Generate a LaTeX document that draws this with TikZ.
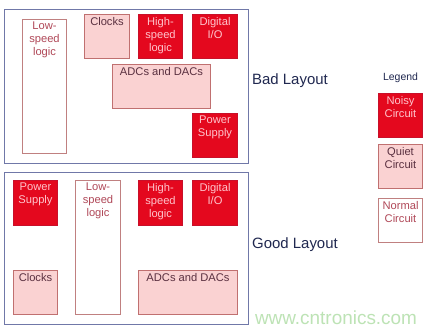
\documentclass[tikz,border=0pt]{standalone}
\usepackage{fontspec}
\setmainfont{Liberation Sans}
\definecolor{noisyred}{HTML}{E4081E}
\definecolor{noisyedge}{HTML}{C8102A}
\definecolor{noisytext}{HTML}{FFC4CC}
\definecolor{quietfill}{HTML}{FAD2D2}
\definecolor{quietedge}{HTML}{C07070}
\definecolor{quiettext}{HTML}{5A3040}
\definecolor{normedge}{HTML}{C08080}
\definecolor{normtext}{HTML}{B04858}
\definecolor{panel}{HTML}{7078A8}
\definecolor{navy}{HTML}{202850}
\definecolor{wm}{HTML}{BDE3B5}
\tikzset{
  blk/.style={draw, line width=0.9pt, inner sep=0pt, rectangle},
  noisy/.style={blk, fill=noisyred, draw=noisyedge},
  quiet/.style={blk, fill=quietfill, draw=quietedge},
  normal/.style={blk, fill=white, draw=normedge},
  panelbox/.style={draw=panel, line width=0.8pt, fill=white},
  ntxt/.style={anchor=north, align=center, font=\fontsize{11.2}{13}\selectfont, text=noisytext, inner sep=3.2pt},
  qtxt/.style={ntxt, text=quiettext},
  mtxt/.style={ntxt, text=normtext},
  head/.style={anchor=west, font=\fontsize{15}{17}\selectfont, text=navy, inner sep=0pt}
}
\begin{document}
\begin{tikzpicture}[x=1bp,y=-1bp]
\useasboundingbox (0,0) rectangle (438,334);
\fill[white] (0,0) rectangle (438,334);
% panels
\draw[panelbox] (4,9) rectangle (248,163);
\draw[panelbox] (4,172) rectangle (248,324);
% ---- bad layout
\node[normal, minimum width=45, minimum height=135] (bls) at (44.5,86.5) {};
\node[mtxt] (blst) at (bls.north) {Low-\\speed\\logic};
\node[quiet, minimum width=46, minimum height=45] (bcl) at (107,36.5) {};
\node[qtxt] (bclt) at (bcl.north) {Clocks};
\node[noisy, minimum width=45, minimum height=45] (bhs) at (160.5,36.5) {};
\node[ntxt] (bhst) at (bhs.north) {High-\\speed\\logic};
\node[noisy, minimum width=46, minimum height=45] (bdi) at (215,36.5) {};
\node[ntxt] (bdit) at (bdi.north) {Digital\\I/O};
\node[quiet, minimum width=99, minimum height=45] (bad) at (161.5,86.5) {};
\node[qtxt] (badt) at (bad.north) {ADCs and DACs};
\node[noisy, minimum width=46, minimum height=45] (bps) at (215,135.5) {};
\node[ntxt] (bpst) at (bps.north) {Power\\Supply};
% ---- good layout
\node[noisy, minimum width=45, minimum height=46] (gps) at (35.5,203) {};
\node[ntxt] (gpst) at (gps.north) {Power\\Supply};
\node[normal, minimum width=46, minimum height=135] (gls) at (98,247.5) {};
\node[mtxt] (glst) at (gls.north) {Low-\\speed\\logic};
\node[noisy, minimum width=45, minimum height=46] (ghs) at (160.5,203) {};
\node[ntxt] (ghst) at (ghs.north) {High-\\speed\\logic};
\node[noisy, minimum width=46, minimum height=46] (gdi) at (215,203) {};
\node[ntxt] (gdit) at (gdi.north) {Digital\\I/O};
\node[quiet, minimum width=45, minimum height=45] (gcl) at (35.5,292.5) {};
\node[qtxt] (gclt) at (gcl.north) {Clocks};
\node[quiet, minimum width=100, minimum height=45] (gad) at (188,292.5) {};
\node[qtxt] (gadt) at (gad.north) {ADCs and DACs};
% ---- headings
\node[head] (badh) at (252,81) {Bad Layout};
\node[head] (goodh) at (252,245) {Good Layout};
% ---- legend
\node[font=\fontsize{10.5}{12}\selectfont, text=navy, inner sep=0pt] (leg) at (400.5,78) {Legend};
\node[noisy, minimum width=45, minimum height=45] (lno) at (400.5,115.5) {};
\node[ntxt] (lnot) at (lno.north) {Noisy\\Circuit};
\node[quiet, minimum width=45, minimum height=45] (lqu) at (400.5,166.5) {};
\node[qtxt] (lqut) at (lqu.north) {Quiet\\Circuit};
\node[normal, minimum width=45, minimum height=45] (lnm) at (400.5,220.5) {};
\node[mtxt] (lnmt) at (lnm.north) {Normal\\Circuit};
% ---- watermark
\node[font=\fontsize{19}{21}\selectfont, text=wm, inner sep=0pt] (wmk) at (336,318) {www.cntronics.com};
\end{tikzpicture}
\end{document}
